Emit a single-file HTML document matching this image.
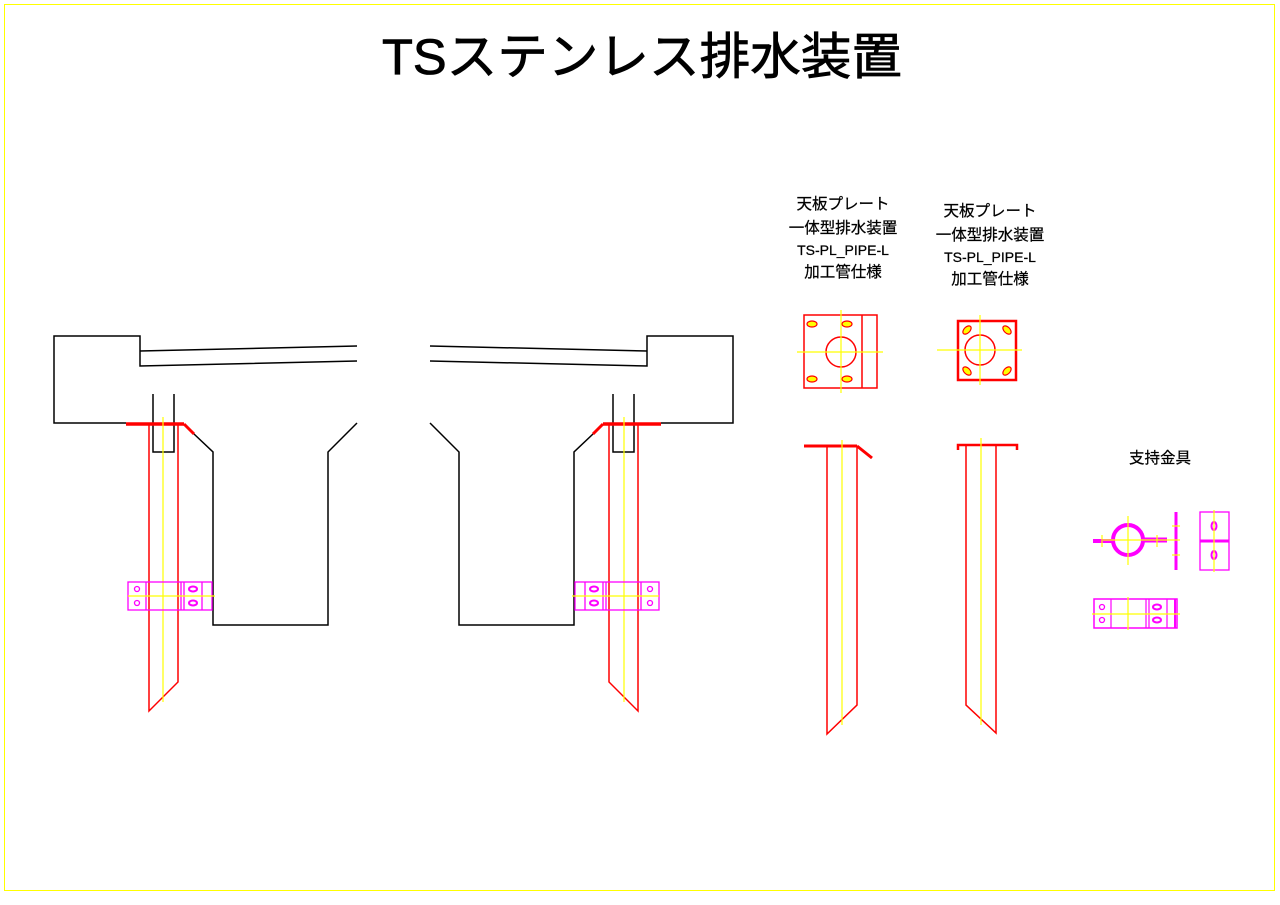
<!DOCTYPE html>
<html><head><meta charset="utf-8"><style>
html,body{margin:0;padding:0;background:#fff;}
svg{display:block;}
text{font-family:"Liberation Sans","Noto Sans CJK JP",sans-serif;fill:#000;}
</style></head><body>
<svg width="1280" height="905" viewBox="0 0 1280 905" xmlns="http://www.w3.org/2000/svg">
<rect x="4.5" y="4.5" width="1270" height="886" fill="none" stroke="#ffff00" stroke-width="1"/>
<text x="382" y="74" font-size="50" textLength="520" lengthAdjust="spacingAndGlyphs" stroke="#000" stroke-width="0.8">TSステンレス排水装置</text>

<defs>
<g id="half">
  <g fill="none" stroke="#000" stroke-width="1.5">
    <polyline points="126,423 54,423 54,336 140,336 140,366 357,361"/>
    <line x1="140" y1="351" x2="357" y2="346"/>
    <polyline points="153,394 153,452 174,452 174,394"/>
    <polyline points="357,423 328,452 328,625 213,625 213,452 194,434"/>
  </g>
  <g fill="none" stroke="#ff0000">
    <line x1="126" y1="424" x2="184" y2="424" stroke-width="3.5"/>
    <line x1="184" y1="424" x2="194" y2="434" stroke-width="3"/>
    <polyline points="149,424 149,711 178,682 178,424" stroke-width="1.5"/>
  </g>
  <line x1="163" y1="417" x2="163" y2="702" stroke="#ffff00" stroke-width="1.2"/>
  <g fill="none" stroke="#ff00ff" stroke-width="1.3">
    <rect x="128" y="582" width="84" height="28"/>
    <line x1="146" y1="582" x2="146" y2="610"/>
    <line x1="181" y1="582" x2="181" y2="610"/>
    <line x1="184" y1="582" x2="184" y2="610"/>
    <line x1="202" y1="582" x2="202" y2="610"/>
    <circle cx="137" cy="589" r="2.5"/><circle cx="137" cy="603" r="2.5"/>
    <ellipse cx="193" cy="589" rx="4" ry="2.5" stroke-width="2"/><ellipse cx="193" cy="603" rx="4" ry="2.5" stroke-width="2"/>
  </g>
  <line x1="128" y1="596" x2="215" y2="596" stroke="#ffff00" stroke-width="1.2"/>
</g>
</defs>
<use href="#half"/>
<use href="#half" transform="translate(787,0) scale(-1,1)"/>

<g font-size="15.5" text-anchor="middle" stroke="#000" stroke-width="0.25">
  <text x="843" y="209">天板プレート</text>
  <text x="843" y="233">一体型排水装置</text>
  <text x="843" y="255" font-size="14">TS-PL_PIPE-L</text>
  <text x="843" y="277">加工管仕様</text>
  <text x="990" y="216">天板プレート</text>
  <text x="990" y="240">一体型排水装置</text>
  <text x="990" y="262" font-size="14">TS-PL_PIPE-L</text>
  <text x="990" y="284">加工管仕様</text>
  <text x="1160" y="463">支持金具</text>
</g>

<g fill="none" stroke="#ff0000" stroke-width="1.5">
  <rect x="804" y="315" width="73" height="73"/>
  <line x1="862" y1="315" x2="862" y2="388"/>
  <circle cx="841" cy="352" r="15"/>
</g>
<g fill="#ffff00" stroke="#ff0000" stroke-width="1.2">
  <ellipse cx="812" cy="324" rx="5" ry="3"/><ellipse cx="847" cy="324" rx="5" ry="3"/>
  <ellipse cx="812" cy="379" rx="5" ry="3"/><ellipse cx="847" cy="379" rx="5" ry="3"/>
</g>
<g stroke="#ffff00" stroke-width="1.2">
  <line x1="797" y1="352" x2="883" y2="352"/><line x1="841" y1="310" x2="841" y2="393"/>
</g>
<g fill="none" stroke="#ff0000">
  <rect x="958" y="321" width="58" height="59" stroke-width="2.5"/>
  <circle cx="980" cy="350" r="15" stroke-width="1.5"/>
</g>
<g fill="#ffff00" stroke="#ff0000" stroke-width="1.2">
  <ellipse cx="967" cy="330" rx="5" ry="3" transform="rotate(-45 967 330)"/>
  <ellipse cx="1007" cy="330" rx="5" ry="3" transform="rotate(45 1007 330)"/>
  <ellipse cx="967" cy="371" rx="5" ry="3" transform="rotate(45 967 371)"/>
  <ellipse cx="1007" cy="371" rx="5" ry="3" transform="rotate(-45 1007 371)"/>
</g>
<g stroke="#ffff00" stroke-width="1.2">
  <line x1="937" y1="350" x2="1022" y2="350"/><line x1="980" y1="315" x2="980" y2="385"/>
</g>

<g fill="none" stroke="#ff0000">
  <line x1="804" y1="446" x2="857" y2="446" stroke-width="3"/>
  <line x1="857" y1="446" x2="872" y2="458" stroke-width="3"/>
  <polyline points="827,446 827,734 857,705 857,446" stroke-width="1.5"/>
</g>
<line x1="842" y1="440" x2="842" y2="725" stroke="#ffff00" stroke-width="1.2"/>
<g fill="none" stroke="#ff0000">
  <polyline points="958,450 958,445 1017,445 1017,450" stroke-width="2.5"/>
  <polyline points="966,445 966,705 996,733 996,445" stroke-width="1.5"/>
</g>
<line x1="981" y1="438" x2="981" y2="725" stroke="#ffff00" stroke-width="1.2"/>

<g fill="none" stroke="#ff00ff">
  <circle cx="1128" cy="540" r="15" stroke-width="4"/>
  <line x1="1093" y1="541" x2="1113" y2="541" stroke-width="4"/>
  <line x1="1143" y1="540" x2="1167" y2="540" stroke-width="5"/>
  <line x1="1176" y1="512" x2="1176" y2="570" stroke-width="3"/>
  <rect x="1200" y="512" width="29" height="58" stroke-width="1.3"/>
  <line x1="1200" y1="541" x2="1229" y2="541" stroke-width="3"/>
  <ellipse cx="1214" cy="526" rx="2.5" ry="4" stroke-width="2"/>
  <ellipse cx="1214" cy="555" rx="2.5" ry="4" stroke-width="2"/>
  <rect x="1094" y="599" width="83" height="29" stroke-width="1.5"/>
  <line x1="1111" y1="599" x2="1111" y2="628" stroke-width="1.2"/>
  <line x1="1146" y1="599" x2="1146" y2="628" stroke-width="1.2"/>
  <line x1="1149" y1="599" x2="1149" y2="628" stroke-width="1.2"/>
  <line x1="1167" y1="599" x2="1167" y2="628" stroke-width="1.2"/>
  <line x1="1175" y1="599" x2="1175" y2="628" stroke-width="2"/>
  <circle cx="1102" cy="607" r="2.5" stroke-width="1.3"/><circle cx="1102" cy="620" r="2.5" stroke-width="1.3"/>
  <ellipse cx="1157" cy="607" rx="4" ry="2.5" stroke-width="2"/><ellipse cx="1157" cy="620" rx="4" ry="2.5" stroke-width="2"/>
</g>
<g stroke="#ffff00" stroke-width="1.2">
  <line x1="1103" y1="540" x2="1180" y2="540"/><line x1="1128" y1="516" x2="1128" y2="565"/>
  <line x1="1102" y1="535" x2="1102" y2="547"/><line x1="1157" y1="535" x2="1157" y2="547"/>
  <line x1="1172" y1="526" x2="1180" y2="526"/><line x1="1172" y1="555" x2="1180" y2="555"/>
  <line x1="1214" y1="510" x2="1214" y2="572"/>
  <line x1="1092" y1="614" x2="1180" y2="614"/><line x1="1128" y1="597" x2="1128" y2="630"/>
</g>
</svg>
</body></html>
